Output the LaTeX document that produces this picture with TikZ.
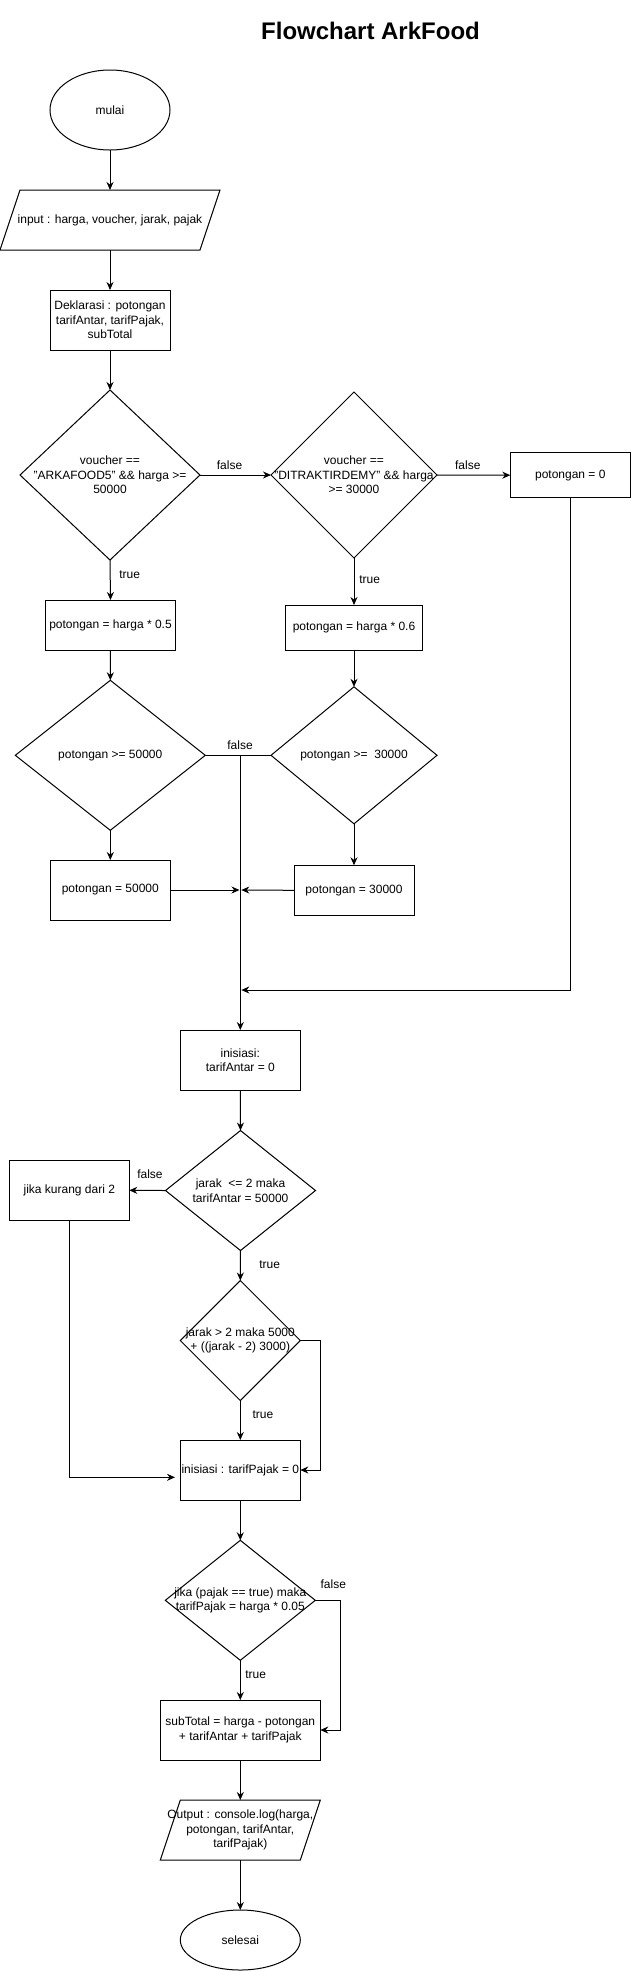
\documentclass[tikz,border=0pt]{standalone}
\usepackage{fontspec}
\setmainfont{Liberation Sans}
\usetikzlibrary{shapes.geometric,arrows.meta,calc}
\begin{document}
\begin{tikzpicture}[x=1pt,y=-1pt,
  every node/.style={font=\fontsize{12}{14.4}\selectfont, inner sep=0pt, outer sep=0pt},
  box/.style={draw, line width=1pt, rectangle, align=center},
  dia/.style={draw, line width=1pt, diamond},
  ell/.style={draw, line width=1pt, ellipse},
  txt/.style={align=center},
  ln/.style={line width=1pt},
  arr/.style={line width=1pt, -{Stealth[length=8pt,width=7pt]}},
]
\fill[white] (0,0) rectangle (631,1971);
\useasboundingbox (0,0) rectangle (631,1971);

\node[font=\bfseries\fontsize{24}{28.8}\selectfont, anchor=base] (title) at (370.5,39.3) {Flowchart ArkFood};

% nodes
\node[ell, minimum width=120pt, minimum height=80pt] (m) at (110,110) {mulai};
\node[txt, minimum width=220pt, minimum height=60pt] (in) at (110,220) {input : harga, voucher, jarak, pajak};
\draw[ln] ([xshift=20pt]in.north west) -- (in.north east) -- ([xshift=-20pt]in.south east) -- (in.south west) -- cycle;
\node[box, minimum width=120pt, minimum height=60pt] (dk) at (110,320) {Deklarasi : potongan\\tarifAntar, tarifPajak,\\subTotal};

\node[dia, minimum width=180pt, minimum height=170pt] (d1) at (110,475) {};
\node[txt] (t1) at (d1.center) {voucher ==\\"ARKAFOOD5" \&\& harga >=\\50000};
\node[dia, minimum width=166pt, minimum height=166pt] (d2) at (354,475) {};
\node[txt] (t2) at (d2.center) {voucher ==\\"DITRAKTIRDEMY" \&\& harga\\>= 30000};
\node[box, minimum width=120pt, minimum height=45pt] (p0) at (570.3,475.2) {potongan = 0};

\node[box, minimum width=130pt, minimum height=50pt] (p5) at (110.5,625) {potongan = harga * 0.5};
\node[box, minimum width=137pt, minimum height=45pt] (p6) at (354,627.5) {potongan = harga * 0.6};

\node[dia, minimum width=190pt, minimum height=150pt] (d3) at (110.3,755.3) {};
\node[txt] (t3) at (d3.center) {potongan >= 50000};
\node[dia, minimum width=166pt, minimum height=137pt] (d4) at (354,755.3) {};
\node[txt] (t4) at (d4.center) {potongan >=\ \ 30000};

\node[box, minimum width=120pt, minimum height=60pt] (p50) at (110.3,890) {potongan = 50000};
\node[box, minimum width=120pt, minimum height=50pt] (p30) at (354,890.3) {potongan = 30000};

\node[box, minimum width=120pt, minimum height=60pt] (ia) at (240.3,1060) {inisiasi:\\tarifAntar = 0};
\node[dia, minimum width=150pt, minimum height=120pt] (d5) at (240.5,1190.5) {};
\node[txt] (t5) at (d5.center) {jarak\ \ <= 2 maka\\tarifAntar = 50000};
\node[box, minimum width=120pt, minimum height=60pt] (jk) at (69.3,1190.3) {jika kurang dari 2};
\node[dia, minimum width=120pt, minimum height=120pt] (d6) at (240.3,1340.5) {};
\node[txt] (t6) at (d6.center) {jarak > 2 maka 5000\\+ ((jarak - 2) 3000)};
\node[box, minimum width=120pt, minimum height=60pt] (ip) at (240.3,1470) {inisiasi : tarifPajak = 0};
\node[dia, minimum width=150pt, minimum height=120pt] (d7) at (240.3,1600.3) {};
\node[txt] (t7) at (d7.center) {jika (pajak == true) maka\\tarifPajak = harga * 0.05};
\node[box, minimum width=160pt, minimum height=60pt] (st) at (240.3,1730) {subTotal = harga - potongan\\+ tarifAntar + tarifPajak};
\node[txt, minimum width=160pt, minimum height=60pt] (out) at (240.3,1830) {Output : console.log(harga,\\potongan, tarifAntar,\\tarifPajak)};
\draw[ln] ([xshift=20pt]out.north west) -- (out.north east) -- ([xshift=-20pt]out.south east) -- (out.south west) -- cycle;
\node[ell, minimum width=120pt, minimum height=60pt] (se) at (240.3,1940) {selesai};

% junction coordinates
\coordinate (J) at (240.3,755.3);
\coordinate (m1) at (239.5,890);
\coordinate (m1b) at (241.3,890);
\coordinate (m2) at (241.3,990);
\coordinate (m3) at (175,1477.3);

% connectors
\draw[arr] (m) -- (in);
\draw[arr] (in) -- (dk);
\draw[arr] (dk) -- (d1);
\draw[arr] (d1.east) -- (d2.west);
\draw[arr] (d2.east) -- (p0.west);
\draw[arr] (d1.south) -- (p5.north);
\draw[arr] (d2.south) -- (p6.north);
\draw[arr] (p5.south) -- (d3.north);
\draw[arr] (p6.south) -- (d4.north);
\draw[arr] (d3.south) -- (p50.north);
\draw[arr] (d4.south) -- (p30.north);
\draw[ln] (d3.east) -- (d4.west);
\draw[arr] (J) -- (ia.north);
\draw[arr] (p50.east) -- (m1);
\draw[arr] (p30.west) -- (m1b);
\draw[arr] (p0.south) |- (m2);
\draw[arr] (ia.south) -- (d5.north);
\draw[arr] (d5.west) -- (jk.east);
\draw[arr] (d5.south) -- (d6.north);
\draw[arr] (d6.south) -- (ip.north);
\draw[arr] (d6.east) -- ++(20,0) |- (ip.east);
\draw[arr] (jk.south) |- (m3);
\draw[arr] (ip.south) -- (d7.north);
\draw[arr] (d7.east) -- ++(25,0) |- (st.east);
\draw[arr] (d7.south) -- (st.north);
\draw[arr] (st.south) -- (out.north);
\draw[arr] (out.south) -- (se.north);

% labels
\node (f1) at (229.5,465) {false};
\node (f2) at (467.8,465) {false};
\node (tr1) at (129.6,574.3) {true};
\node (tr2) at (369.6,579.7) {true};
\node (f3) at (240,744.7) {false};
\node (f4) at (150,1174.3) {false};
\node (tr3) at (269.7,1264.3) {true};
\node (tr4) at (263,1414.3) {true};
\node (f5) at (333.3,1584.3) {false};
\node (tr5) at (255.7,1674.3) {true};
\end{tikzpicture}
\end{document}
